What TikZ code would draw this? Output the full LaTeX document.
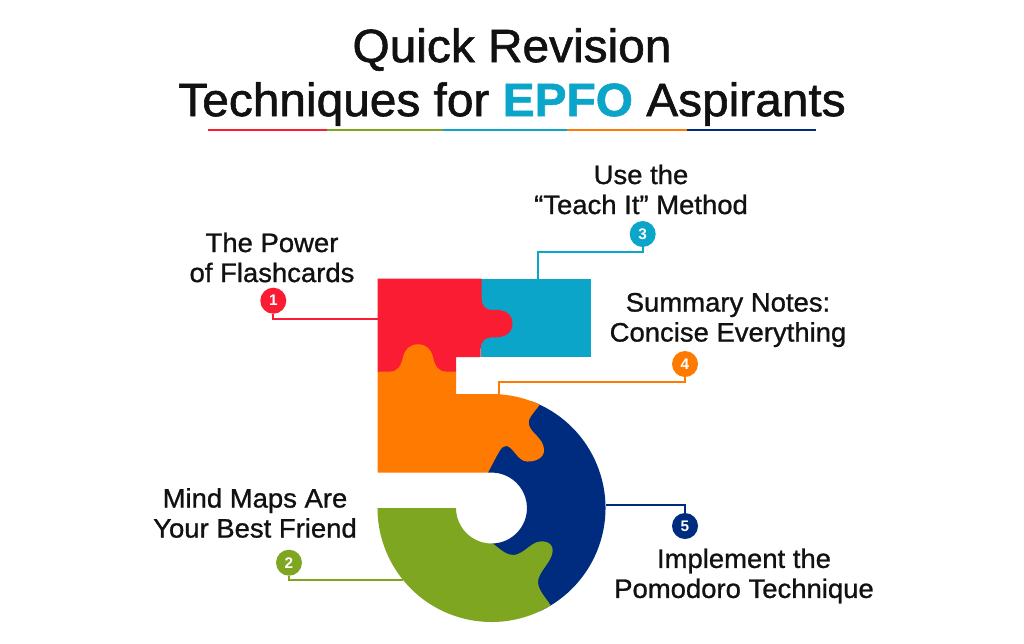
\documentclass[tikz,border=0pt]{standalone}
\usepackage{fontspec}
\setmainfont{Liberation Sans}
\newfontfamily\headfont[FakeBold=1.3,FakeStretch=1.025]{Liberation Sans}
\newfontfamily\inkfont[FakeBold=1,FakeStretch=1.03]{Liberation Sans}
\usepackage{tikz}
\usetikzlibrary{positioning}
\definecolor{redpiece}{HTML}{F91C32}
\definecolor{bluepiece}{HTML}{0CA5CA}
\definecolor{orangepiece}{HTML}{FF7A00}
\definecolor{navypiece}{HTML}{002C80}
\definecolor{greenpiece}{HTML}{7FA621}
\definecolor{inktext}{HTML}{111111}
\tikzset{
   titletext/.style={font=\headfont\fontsize{35}{40.5}\selectfont,text=inktext,align=center,inner sep=0pt},
   labeltext/.style={font=\inkfont\fontsize{20}{22.5}\selectfont,text=inktext,align=center,inner sep=0pt},
   badge/.style={circle,fill=#1,text=white,minimum size=19.5pt,inner sep=0pt,font=\fontsize{11.5}{11.5}\selectfont\bfseries},
   wire/.style={draw=#1,line width=1.6pt},
   rulebar/.style={line width=1.8pt,draw=#1}
}
\begin{document}
\begin{tikzpicture}[x=0.75pt,y=-0.75pt]
\useasboundingbox (0,0) rectangle (1024,643);
\coordinate (bowl) at (491.5,508);
\node[titletext] (revision) at (512,77) {Quick Revision\\Techniques for {\bfseries\color{bluepiece}EPFO} Aspirants};
\coordinate (barA) at (208,130);
\coordinate (barB) at (327,130);
\coordinate (barC) at (443,130);
\coordinate (barD) at (567,130);
\coordinate (barE) at (687,130);
\coordinate (barF) at (816,130);
\draw[rulebar=redpiece] (barA) -- (barB);
\draw[rulebar=greenpiece] (barB) -- (barC);
\draw[rulebar=bluepiece] (barC) -- (barD);
\draw[rulebar=orangepiece] (barD) -- (barE);
\draw[rulebar=navypiece] (barE) -- (barF);
\fill[bluepiece] (481,278.5) rectangle (590.5,357);
\fill[redpiece] (377.5,278.5) -- (481.7,278.5) -- (481.7,298)
   .. controls (481.7,306) and (485,310) .. (493,310)
   .. controls (505,309) and (512.5,314) .. (512.5,323.5)
   .. controls (512.5,333) and (505,338) .. (493,337.3)
   .. controls (485,337.3) and (480.7,341) .. (480.7,349)
   -- (480.7,357) -- (456,357) -- (456,372) -- (377.5,372) -- cycle;
\fill[navypiece] (bowl) ++(-70:114) arc[start angle=-70,end angle=65,radius=114]
   -- (510,580) -- (492.7,543.5) arc[start angle=88,end angle=-96,radius=35.5] -- (490,440) -- cycle;
\fill[orangepiece] (377.5,371.5) -- (390,371.5)
   .. controls (398,371.5) and (401,366) .. (403,357)
   .. controls (405,349) and (410,344.3) .. (418,344.3)
   .. controls (426,344.3) and (431,349) .. (433,357)
   .. controls (435,366) and (438,371.5) .. (446,371.5)
   -- (456,371.5) -- (456,394) -- (491.5,394) arc[start angle=-90,end angle=-65,radius=114]
   .. controls (533,414) and (527,419) .. (529,425)
   .. controls (531,433) and (543,438) .. (544,449)
   .. controls (545,458) and (535,462) .. (527,461.5)
   .. controls (517,461) and (513,446) .. (506,446)
   .. controls (501,446) and (499,452) .. (488,472.5)
   -- (377.5,472.5) -- cycle;
\fill[greenpiece] (377.5,508) -- (456,508) arc[start angle=180,end angle=88,radius=35.5]
   .. controls (500,549) and (506,555) .. (513,555)
   .. controls (520,555) and (527,548) .. (533,544)
   .. controls (541,539) and (553,541) .. (552.7,551)
   .. controls (552,562) and (538,572) .. (538,582)
   .. controls (538,590) and (546,598) .. (550.7,605.4)
   arc[start angle=58.7,end angle=180,radius=114] -- cycle;
\coordinate (redpin) at (377.5,318.7);
\coordinate (greenpin) at (403,580);
\coordinate (bluebend) at (538.3,252);
\coordinate (bluepin) at (538.3,278.5);
\coordinate (orangebend) at (499.3,382.3);
\coordinate (orangepin) at (499.3,394.5);
\coordinate (navypin) at (605.5,505);
\node[badge=redpiece] (one) at (273.3,300.7) {1};
\node[badge=greenpiece] (two) at (289,562.7) {2};
\node[badge=bluepiece] (three) at (642.7,234) {3};
\node[badge=orangepiece] (four) at (685,364) {4};
\node[badge=navypiece] (five) at (685,526) {5};
\draw[wire=redpiece] (one) |- (redpin);
\draw[wire=greenpiece] (two) |- (greenpin);
\draw[wire=bluepiece] (three) |- (bluebend) -- (bluepin);
\draw[wire=orangepiece] (four) |- (orangebend) -- (orangepin);
\draw[wire=navypiece] (five) |- (navypin);
\node[labeltext] (flashcards) at (272,257.5) {The Power\\of Flashcards};
\node[labeltext] (mindmaps) at (255,513) {Mind Maps Are\\Your Best Friend};
\node[labeltext] (teachit) at (641,189.5) {Use the\\“Teach It” Method};
\node[labeltext] (summary) at (728,320) {Summary Notes:\\Concise Everything};
\node[labeltext] (pomodoro) at (744,576) {Implement the\\Pomodoro Technique};
\end{tikzpicture}
\end{document}
